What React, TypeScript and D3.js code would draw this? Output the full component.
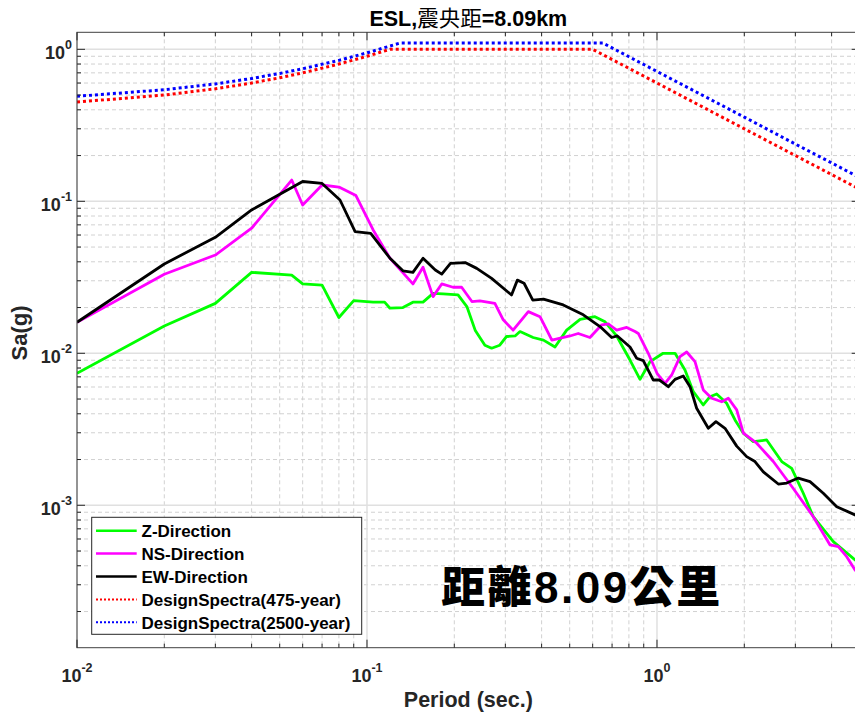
import React from 'react';
import * as d3 from 'd3';

// ---------- data ----------
const zPeriods = [0.01, 0.02, 0.03, 0.04, 0.055, 0.06, 0.07, 0.08, 0.09, 0.105, 0.115, 0.12, 0.133, 0.144, 0.156, 0.169, 0.183, 0.206, 0.221, 0.236, 0.255, 0.269, 0.287, 0.303, 0.324, 0.337, 0.374, 0.406, 0.445, 0.488, 0.543, 0.611, 0.662, 0.726, 0.807, 0.874, 0.933, 0.946, 1.05, 1.154, 1.249, 1.334, 1.444, 1.523, 1.606, 1.739, 1.858, 1.985, 2.148, 2.389, 2.692, 2.914, 3.195, 3.459, 4.055, 4.82, 5.0];
const zValues = [0.00739, 0.0151, 0.0213, 0.0341, 0.0327, 0.0286, 0.0281, 0.0172, 0.0222, 0.0217, 0.0217, 0.0198, 0.02, 0.0217, 0.0217, 0.0248, 0.0246, 0.0242, 0.0203, 0.0142, 0.0113, 0.0108, 0.0113, 0.0129, 0.013, 0.0139, 0.0127, 0.0122, 0.011, 0.0142, 0.0167, 0.0174, 0.0161, 0.013, 0.00903, 0.00674, 0.00838, 0.00881, 0.01, 0.01, 0.00777, 0.00559, 0.00457, 0.00518, 0.0054, 0.00469, 0.00364, 0.00298, 0.00262, 0.00269, 0.00194, 0.00175, 0.0012, 0.000841, 0.000576, 0.000437, 0.00042];

const nsPeriods = [0.01, 0.02, 0.03, 0.04, 0.055, 0.06, 0.07, 0.08, 0.0916, 0.105, 0.12, 0.144, 0.156, 0.169, 0.181, 0.198, 0.212, 0.23, 0.245, 0.276, 0.295, 0.319, 0.36, 0.395, 0.434, 0.501, 0.535, 0.587, 0.645, 0.679, 0.726, 0.786, 0.84, 0.862, 0.933, 1.0, 1.066, 1.124, 1.2, 1.266, 1.352, 1.444, 1.544, 1.672, 1.762, 1.883, 1.985, 2.207, 2.518, 2.951, 3.459, 3.951, 4.22, 4.51, 4.82, 5.0];
const nsValues = [0.016, 0.0331, 0.0443, 0.0665, 0.138, 0.0946, 0.128, 0.124, 0.109, 0.0648, 0.0422, 0.0286, 0.0368, 0.0236, 0.0286, 0.0272, 0.0272, 0.0219, 0.0221, 0.0213, 0.0166, 0.0142, 0.0188, 0.0174, 0.0122, 0.013, 0.0135, 0.0127, 0.0154, 0.0156, 0.0142, 0.0148, 0.0139, 0.0135, 0.01, 0.00739, 0.00635, 0.0072, 0.0095, 0.0102, 0.00881, 0.00574, 0.00506, 0.0048, 0.00506, 0.00424, 0.00298, 0.00256, 0.00194, 0.00129, 0.000841, 0.000548, 0.000534, 0.000459, 0.000375, 0.00035];

const ewPeriods = [0.01, 0.02, 0.03, 0.04, 0.06, 0.07, 0.0807, 0.091, 0.103, 0.12, 0.133, 0.144, 0.156, 0.172, 0.181, 0.194, 0.218, 0.239, 0.269, 0.315, 0.33, 0.348, 0.373, 0.406, 0.475, 0.557, 0.636, 0.698, 0.73, 0.807, 0.851, 0.897, 0.971, 1.02, 1.094, 1.154, 1.232, 1.3, 1.37, 1.503, 1.597, 1.716, 1.883, 2.038, 2.177, 2.326, 2.62, 2.801, 3.07, 3.37, 3.745, 4.167, 4.82, 5.0];
const ewValues = [0.016, 0.0387, 0.058, 0.0877, 0.135, 0.131, 0.102, 0.0631, 0.0616, 0.0422, 0.0349, 0.0341, 0.0422, 0.0353, 0.0332, 0.0391, 0.0395, 0.0362, 0.0311, 0.0242, 0.0303, 0.0289, 0.0224, 0.0227, 0.0208, 0.0179, 0.015, 0.0127, 0.013, 0.011, 0.00927, 0.00894, 0.00667, 0.00667, 0.00603, 0.00674, 0.00709, 0.00603, 0.00435, 0.00321, 0.00355, 0.00321, 0.00245, 0.00209, 0.00194, 0.00166, 0.00138, 0.0014, 0.00151, 0.00143, 0.0012, 0.000979, 0.000864, 0.00084];

const ds475Periods = [0.01, 0.02, 0.03, 0.04, 0.05, 0.06, 0.08, 0.1, 0.12, 0.6, 0.8, 1, 1.5, 2, 3, 4, 5];
const ds475Values = [0.45, 0.5, 0.55, 0.6, 0.65, 0.7, 0.8, 0.9, 1.0, 1.0, 0.75, 0.6, 0.4, 0.3, 0.2, 0.15, 0.12];

const ds2500Periods = [0.01, 0.02, 0.03, 0.04, 0.05, 0.06, 0.08, 0.1, 0.13, 0.65, 0.8, 1, 1.5, 2, 3, 4, 5];
const ds2500Values = [0.491, 0.542, 0.592, 0.643, 0.694, 0.745, 0.846, 0.948, 1.1, 1.1, 0.894, 0.715, 0.477, 0.358, 0.238, 0.179, 0.143];

const seriesNames = ['Z-Direction', 'NS-Direction', 'EW-Direction', 'DesignSpectra(475-year)', 'DesignSpectra(2500-year)'];
const seriesColors = ['#00ff00', '#ff00ff', '#000000', '#ff0000', '#0000ff'];
const seriesDotted = [false, false, false, true, true];

const xTickValues = [0.01, 0.1, 1];
const xTickExps = ['-2', '-1', '0'];
const yTickValues = [1, 0.1, 0.01, 0.001];
const yTickExps = ['0', '-1', '-2', '-3'];

const titleLatin1 = 'ESL,';
const titleCJK = '震央距';
const titleLatin2 = '=8.09km';
const xLabel = 'Period (sec.)';
const yLabel = 'Sa(g)';
const annoCJK1 = '距離';
const annoNum = '8.09';
const annoCJK2 = '公里';

// ---------- layout ----------
const W = 855;
const H = 713;
const left = 77;
const right = 859.7;
const top = 32.3;
const bottom = 647.7;

const FONT = 'Arial, "Liberation Sans", Helvetica, sans-serif';
const CJK = '"Noto Sans CJK TC", "Noto Sans CJK SC", sans-serif';

export default function App() {
  const x = d3.scaleLog().domain([0.01, 5]).range([left, right]);
  const y = d3.scaleLog().domain([1.156e-4, 1.294]).range([bottom, top]);

  const line = d3
    .line<[number, number]>()
    .x((d) => x(d[0]))
    .y((d) => y(d[1]));

  const series: [number, number][][] = [
    zPeriods.map((p, i) => [p, zValues[i]]),
    nsPeriods.map((p, i) => [p, nsValues[i]]),
    ewPeriods.map((p, i) => [p, ewValues[i]]),
    ds475Periods.map((p, i) => [p, ds475Values[i]]),
    ds2500Periods.map((p, i) => [p, ds2500Values[i]]),
  ];

  // grid values
  const xMinor: number[] = [];
  const xMajor: number[] = [];
  for (let e = -2; e <= 0; e++) {
    xMajor.push(Math.pow(10, e));
    for (let m = 2; m <= 9; m++) {
      const v = m * Math.pow(10, e);
      if (v <= 5 + 1e-9) xMinor.push(v);
    }
  }
  const yMinor: number[] = [];
  const yMajor: number[] = [];
  const [y0, y1] = y.domain();
  for (let e = -4; e <= 0; e++) {
    const dv = Math.pow(10, e);
    if (dv >= y0 && dv <= y1) yMajor.push(dv);
    for (let m = 2; m <= 9; m++) {
      const v = m * dv;
      if (v >= y0 && v <= y1) yMinor.push(v);
    }
  }

  const axisColor = '#262626';
  const legX = 91.7;
  const legY = 517.3;
  const legW = 270;
  const legH = 117;
  const rowH = 22.9;

  return (
    <svg
      width={W}
      height={H}
      style={{ position: 'absolute', left: 0, top: 0, background: '#fff' }}
      fontFamily={FONT}
    >
      <rect x={0} y={0} width={W} height={H} fill="#fff" />
      <defs>
        <clipPath id="plotclip">
          <rect x={left} y={top} width={right - left} height={bottom - top} />
        </clipPath>
      </defs>

      {/* minor grid */}
      <g stroke="#cccccc" strokeWidth={0.9} strokeDasharray="4,3">
        {xMinor.map((v, i) => (
          <line key={'xm' + i} x1={x(v)} x2={x(v)} y1={top} y2={bottom} />
        ))}
        {yMinor.map((v, i) => (
          <line key={'ym' + i} x1={left} x2={right} y1={y(v)} y2={y(v)} />
        ))}
      </g>
      {/* major grid */}
      <g stroke="#e0e0e0" strokeWidth={1.5}>
        {xMajor.map((v, i) => (
          <line key={'xM' + i} x1={x(v)} x2={x(v)} y1={top} y2={bottom} />
        ))}
        {yMajor.map((v, i) => (
          <line key={'yM' + i} x1={left} x2={right} y1={y(v)} y2={y(v)} />
        ))}
      </g>

      {/* data */}
      <g clipPath="url(#plotclip)" fill="none">
        {series.map((s, i) => (
          <path
            key={'s' + i}
            d={line(s) || ''}
            stroke={seriesColors[i]}
            strokeWidth={seriesDotted[i] ? 3 : 2.8}
            strokeDasharray={seriesDotted[i] ? '3,3' : undefined}
            strokeLinejoin="round"
          />
        ))}
      </g>

      {/* box + ticks */}
      <g stroke={axisColor} strokeWidth={1}>
        <rect x={left} y={top} width={right - left} height={bottom - top} fill="none" stroke="#404040" />
        {xMajor.map((v, i) => (
          <g key={'xt' + i}>
            <line x1={x(v)} x2={x(v)} y1={bottom} y2={bottom - 8} />
            <line x1={x(v)} x2={x(v)} y1={top} y2={top + 8} />
          </g>
        ))}
        {xMinor.map((v, i) => (
          <g key={'xmt' + i}>
            <line x1={x(v)} x2={x(v)} y1={bottom} y2={bottom - 4} />
            <line x1={x(v)} x2={x(v)} y1={top} y2={top + 4} />
          </g>
        ))}
        {yMajor.map((v, i) => (
          <g key={'yt' + i}>
            <line x1={left} x2={left + 8} y1={y(v)} y2={y(v)} />
            <line x1={right} x2={right - 8} y1={y(v)} y2={y(v)} />
          </g>
        ))}
        {yMinor.map((v, i) => (
          <g key={'ymt' + i}>
            <line x1={left} x2={left + 4} y1={y(v)} y2={y(v)} />
            <line x1={right} x2={right - 4} y1={y(v)} y2={y(v)} />
          </g>
        ))}
      </g>

      {/* tick labels */}
      <g fill={axisColor} fontWeight="bold">
        {xTickValues.map((v, i) => (
          <text key={'xl' + i} x={x(v)} y={682} textAnchor="middle" fontSize={18}>
            <tspan>10</tspan>
            <tspan fontSize={12.5} dy={-10}>{xTickExps[i]}</tspan>
          </text>
        ))}
        {yTickValues.map((v, i) => (
          <text key={'yl' + i} x={72} y={y(v) + 10} textAnchor="end" fontSize={18}>
            <tspan>10</tspan>
            <tspan fontSize={12.5} dy={-10}>{yTickExps[i]}</tspan>
          </text>
        ))}
      </g>

      {/* title and axis labels */}
      <text x={(left + right) / 2} y={26} textAnchor="middle" fontSize={21.5} fontWeight="bold" fill="#000">
        <tspan>{titleLatin1}</tspan>
        <tspan fontFamily={CJK} fontWeight="normal">{titleCJK}</tspan>
        <tspan>{titleLatin2}</tspan>
      </text>
      <text x={(left + right) / 2} y={707} textAnchor="middle" fontSize={21.5} fontWeight="bold" fill={axisColor}>
        {xLabel}
      </text>
      <text
        transform={`translate(27,333) rotate(-90)`}
        textAnchor="middle"
        fontSize={22}
        fontWeight="bold"
        fill={axisColor}
      >
        {yLabel}
      </text>

      {/* legend */}
      <g>
        <rect x={legX} y={legY} width={legW} height={legH} fill="#fff" stroke="#262626" strokeWidth={1} />
        {seriesNames.map((name, i) => {
          const cy = legY + 13.4 + i * rowH;
          return (
            <g key={'lg' + i}>
              <line
                x1={96}
                x2={136.7}
                y1={cy}
                y2={cy}
                stroke={seriesColors[i]}
                strokeWidth={seriesDotted[i] ? 2 : 2.5}
                strokeDasharray={seriesDotted[i] ? '2,2' : undefined}
              />
              <text x={141.5} y={cy + 6.2} fontSize={17} fontWeight="bold" fill="#000">
                {name}
              </text>
            </g>
          );
        })}
      </g>

      {/* annotation */}
      <text x={441} y={603} fontSize={44} fontWeight="bold" fill="#000" letterSpacing={2.5}>
        <tspan fontFamily={CJK} fontWeight={900}>{annoCJK1}</tspan>
        <tspan>{annoNum}</tspan>
        <tspan fontFamily={CJK} fontWeight={900}>{annoCJK2}</tspan>
      </text>
    </svg>
  );
}
